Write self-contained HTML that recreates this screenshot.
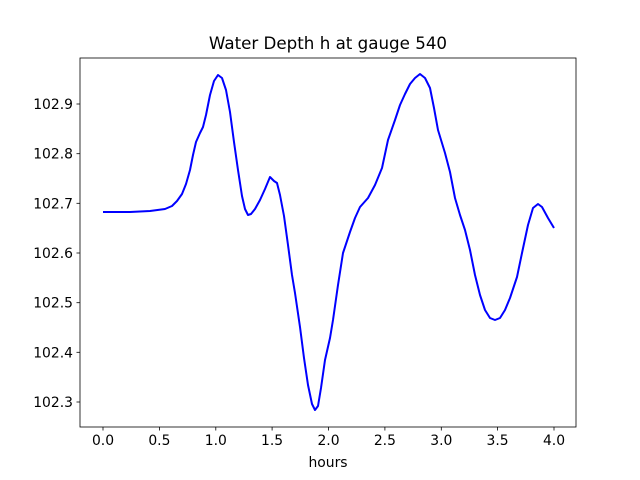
<!DOCTYPE html>
<html><head><style>body{margin:0;background:#fff}svg{display:block}text{font-family:"DejaVu Sans","Liberation Sans",sans-serif;font-size:13.9px;fill:#000}</style></head><body>
<svg width="640" height="480" xmlns="http://www.w3.org/2000/svg">
<rect width="640" height="480" fill="#fff"/>
<polyline fill="none" stroke="#0000ff" stroke-width="2" stroke-linejoin="round" points="103,212 130,212 150,211 165,209 172,206 177,201 182,194 186,184 190,170 193,155 196,142 200,133 203,127 206,115 210,95 214,81 218,75 222,78 226,90 230,112 234,142 238,170 242,196 245,209 248,215 251,214 255,209 260,200 265,189 270,177 274,181 277,183 280,195 284,216 288,245 292,275 295,293 300,327 304,358 308,385 312,404 315,410 318,406 321,388 325,360 330,338 333,320 338,285 343,253 350,232 355,218 360,207 368,198 375,185 382,168 388,140 395,120 400,105 405,94 410,84 415,78 420,74 425,78 430,88 434,108 438,130 445,153 450,172 455,198 460,215 465,230 470,250 475,275 480,295 485,310 490,318 495,320 500,318 505,310 510,298 517,277 522,253 528,225 533,208 538,204 542,207 548,218 554,228"/>
<rect x="80" y="58" width="496" height="369" fill="none" stroke="#000" stroke-width="0.8"/>
<g stroke="#000" stroke-width="0.8">
<line x1="103" y1="427" x2="103" y2="430.5"/><line x1="159.4" y1="427" x2="159.4" y2="430.5"/><line x1="215.8" y1="427" x2="215.8" y2="430.5"/><line x1="272.1" y1="427" x2="272.1" y2="430.5"/><line x1="328.5" y1="427" x2="328.5" y2="430.5"/><line x1="384.9" y1="427" x2="384.9" y2="430.5"/><line x1="441.3" y1="427" x2="441.3" y2="430.5"/><line x1="497.6" y1="427" x2="497.6" y2="430.5"/><line x1="554" y1="427" x2="554" y2="430.5"/>
<line x1="76.5" y1="104" x2="80" y2="104"/><line x1="76.5" y1="153.7" x2="80" y2="153.7"/><line x1="76.5" y1="203.3" x2="80" y2="203.3"/><line x1="76.5" y1="253" x2="80" y2="253"/><line x1="76.5" y1="302.7" x2="80" y2="302.7"/><line x1="76.5" y1="352.3" x2="80" y2="352.3"/><line x1="76.5" y1="402" x2="80" y2="402"/>
</g>
<g text-anchor="middle">
<text x="103" y="445">0.0</text><text x="159.4" y="445">0.5</text><text x="215.8" y="445">1.0</text><text x="272.1" y="445">1.5</text><text x="328.5" y="445">2.0</text><text x="384.9" y="445">2.5</text><text x="441.3" y="445">3.0</text><text x="497.6" y="445">3.5</text><text x="554" y="445">4.0</text>
<text x="328" y="467">hours</text>
<text x="328" y="49" style="font-size:16.7px">Water Depth h at gauge 540</text>
</g>
<g text-anchor="end">
<text x="73" y="109">102.9</text><text x="73" y="158.7">102.8</text><text x="73" y="208.3">102.7</text><text x="73" y="258">102.6</text><text x="73" y="307.7">102.5</text><text x="73" y="357.3">102.4</text><text x="73" y="407">102.3</text>
</g>
</svg>
</body></html>
